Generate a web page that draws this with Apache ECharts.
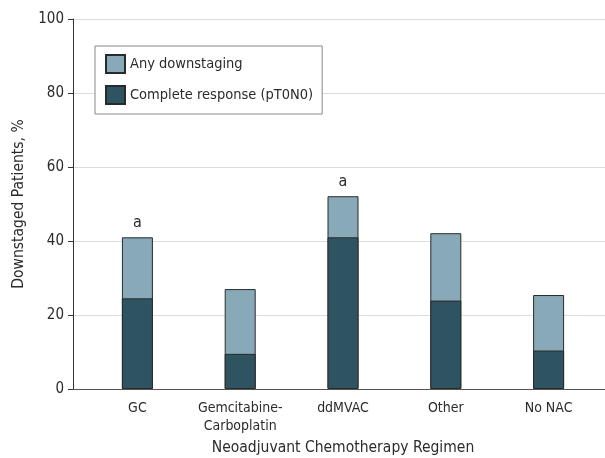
<!DOCTYPE html>
<html>
<head>
<meta charset="utf-8">
<script src="https://cdn.jsdelivr.net/npm/echarts@6/dist/echarts.min.js"></script>
<style>html,body{margin:0;padding:0;background:#fff;}#c{width:605px;height:458px;}</style>
</head>
<body>
<div id="c"></div>
<script>
const categories = ['GC', 'Gemcitabine-Carboplatin', 'ddMVAC', 'Other', 'No NAC'];
const anyDownstaging = [41.0, 27.0, 52.1, 42.1, 25.4];
const completeResponse = [24.5, 9.5, 41.0, 23.9, 10.4];
const footnotes = ['a', '', 'a', '', ''];
const yTicks = [0, 20, 40, 60, 80, 100];

const FONT = '"DejaVu Sans Condensed", "DejaVu Sans", sans-serif';
const TXT = '#2b2b2b';
const chart = echarts.init(document.getElementById('c'), null, {renderer: 'canvas'});
chart.setOption({
  animation: false,
  textStyle: {fontFamily: FONT, color: TXT},
  grid: [
    {left: 73, right: 0, top: 19, bottom: 69, outerBoundsMode: 'none', containLabel: false},
    {left: 86, right: 5, top: 19, bottom: 69, outerBoundsMode: 'none', containLabel: false}
  ],
  legend: {
    orient: 'vertical',
    left: 95, top: 46,
    padding: [8, 9, 9, 10],
    itemWidth: 19, itemHeight: 18, itemGap: 11,
    icon: 'rect',
    borderColor: '#888', borderWidth: 1,
    backgroundColor: '#fff',
    textStyle: {fontFamily: FONT, fontSize: 14.5, lineHeight: 18, color: TXT},
    data: ['Any downstaging', 'Complete response (pT0N0)']
  },
  xAxis: [
    {gridIndex: 0, type: 'value', min: 0, max: 1, show: true, z: 5,
     axisLine: {show: true, lineStyle: {color: '#555', width: 1}},
     axisTick: {show: false}, axisLabel: {show: false}, splitLine: {show: false}},
    {gridIndex: 1, type: 'category', data: categories,
     name: 'Neoadjuvant Chemotherapy Regimen', nameLocation: 'middle', nameGap: 50,
     nameTextStyle: {fontFamily: FONT, fontSize: 15.5, color: TXT},
     axisLine: {show: false}, axisTick: {show: false},
     axisLabel: {interval: 0, fontFamily: FONT, fontSize: 14, color: TXT, margin: 10, lineHeight: 18,
       formatter: v => v.replace('-', '-\n')}}
  ],
  yAxis: [
    {gridIndex: 0, type: 'value', min: yTicks[0], max: yTicks[yTicks.length - 1], interval: 20,
     name: 'Downstaged Patients, %', nameLocation: 'middle', nameGap: 35,
     nameTextStyle: {fontFamily: FONT, fontSize: 15.5, color: TXT},
     axisLine: {show: true, lineStyle: {color: '#333', width: 1}},
     axisTick: {show: true, length: 5, lineStyle: {color: '#333'}},
     axisLabel: {fontFamily: FONT, fontSize: 15, color: TXT, margin: 9},
     splitLine: {show: true, lineStyle: {color: '#dcdcdc', width: 1}}},
    {gridIndex: 1, type: 'value', min: 0, max: 100, show: false, splitLine: {show: false}}
  ],
  series: [
    {name: 'Any downstaging', type: 'bar', xAxisIndex: 1, yAxisIndex: 1,
     data: anyDownstaging, barWidth: 31, barGap: '-100%',
     itemStyle: {color: '#87a9b8', borderColor: '#2a2a2a', borderWidth: 1},
     label: {show: true, position: 'top', distance: 6, fontFamily: FONT, fontSize: 16, color: TXT,
       formatter: p => footnotes[p.dataIndex]}},
    {name: 'Complete response (pT0N0)', type: 'bar', xAxisIndex: 1, yAxisIndex: 1,
     data: completeResponse, barWidth: 31, barGap: '-100%',
     itemStyle: {color: '#2e5462', borderColor: '#2a2a2a', borderWidth: 1}}
  ]
});
</script>
</body>
</html>
